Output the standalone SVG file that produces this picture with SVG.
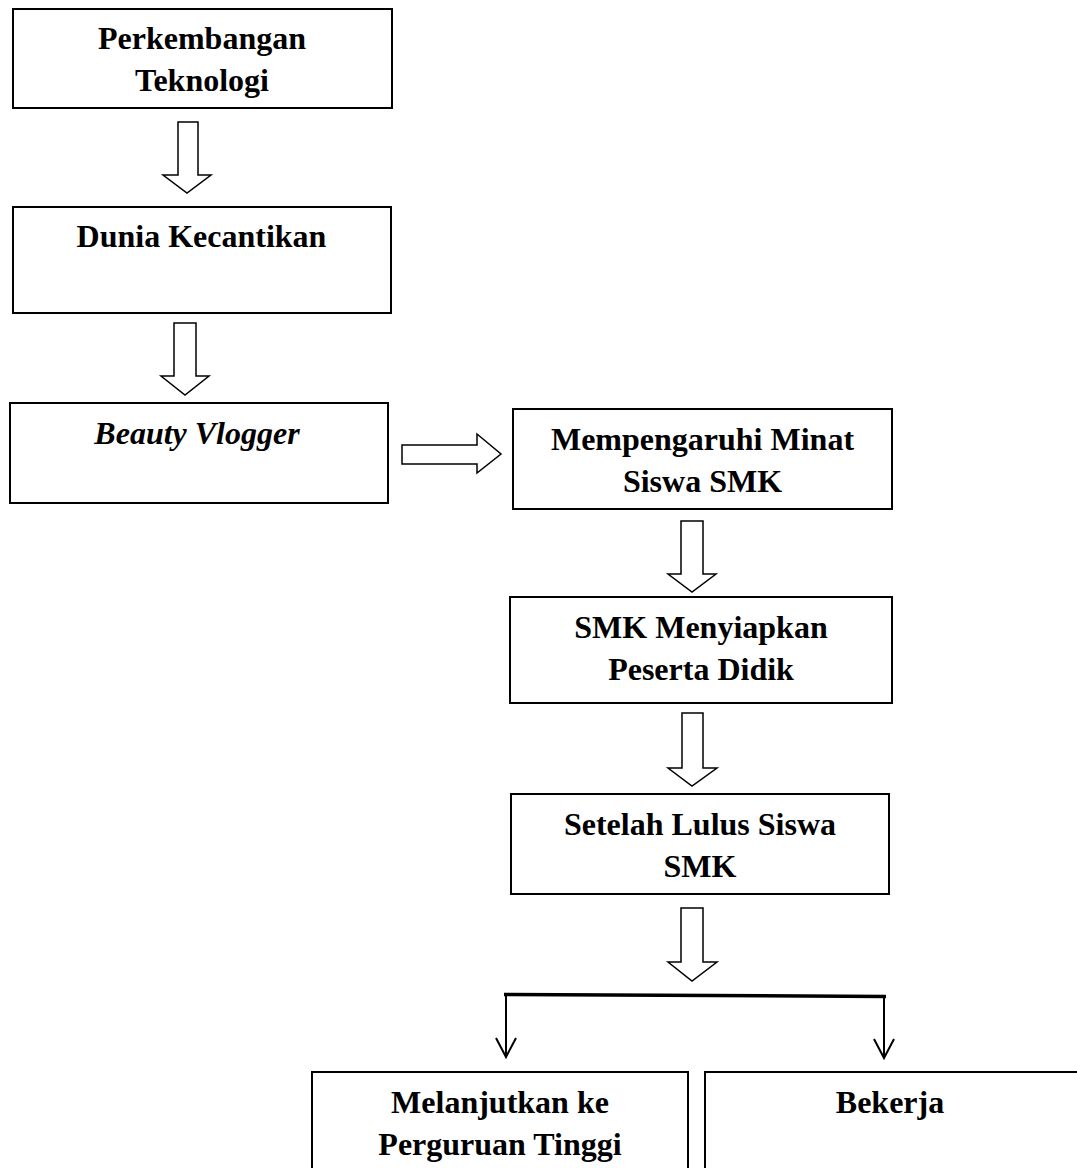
<svg xmlns="http://www.w3.org/2000/svg" width="1077" height="1168" viewBox="0 0 1077 1168">
<defs>
<style>
.box{fill:#fff;stroke:#000;stroke-width:2}
.blk{fill:#fff;stroke:#000;stroke-width:1.5;stroke-linejoin:miter}
.t{font-family:"Liberation Serif","Times New Roman",serif;font-weight:bold;font-size:32px;fill:#000;text-anchor:middle}
.it{font-style:italic}
.ln{fill:none;stroke:#000;stroke-width:2}
.split{fill:none;stroke:#000;stroke-width:3.5}
</style>
</defs>
<rect width="1077" height="1168" fill="#fff"/>
<g id="connectors">
<polygon class="blk" points="178,122 198,122 198,175 211,175 187,193 163,175 178,175"/>
<polygon class="blk" points="174,323 196,323 196,376 209,376 185,395 161,376 174,376"/>
<polygon class="blk" points="402,445 477,445 477,434 501,454 477,473 477,464 402,464"/>
<polygon class="blk" points="681,521 703,521 703,574 716,574 692,592 668,574 681,574"/>
<polygon class="blk" points="682,713 703,713 703,768 717,768 692,786 668,768 682,768"/>
<polygon class="blk" points="681,908 703,908 703,962 717,962 692,981 668,962 681,962"/>
<path class="split" d="M504,994.5 L886,996.5"/>
<path class="ln" d="M506,995 L506,1057 M496,1038 L506,1057 L516,1038"/>
<path class="ln" d="M884,996 L884,1058 M874,1039 L884,1058 L894,1039"/>
</g>
<g id="node-perkembangan">
<rect class="box" x="13" y="9" width="379" height="99"/>
<text class="t" x="202" y="49">Perkembangan</text>
<text class="t" x="202" y="91">Teknologi</text>
</g>
<g id="node-dunia">
<rect class="box" x="13" y="207" width="378" height="106"/>
<text class="t" x="201.5" y="247">Dunia Kecantikan</text>
</g>
<g id="node-beauty">
<rect class="box" x="10" y="403" width="378" height="100"/>
<text class="t it" x="197" y="444">Beauty Vlogger</text>
</g>
<g id="node-minat">
<rect class="box" x="513" y="409" width="379" height="100"/>
<text class="t" x="702.5" y="450">Mempengaruhi Minat</text>
<text class="t" x="702.5" y="492">Siswa SMK</text>
</g>
<g id="node-menyiapkan">
<rect class="box" x="510" y="597" width="382" height="106"/>
<text class="t" x="701" y="638">SMK Menyiapkan</text>
<text class="t" x="701" y="680">Peserta Didik</text>
</g>
<g id="node-lulus">
<rect class="box" x="511" y="794" width="378" height="100"/>
<text class="t" x="700" y="835">Setelah Lulus Siswa</text>
<text class="t" x="700" y="877">SMK</text>
</g>
<g id="node-melanjutkan">
<rect class="box" x="312" y="1072" width="376" height="110"/>
<text class="t" x="500" y="1113">Melanjutkan ke</text>
<text class="t" x="500" y="1155">Perguruan Tinggi</text>
</g>
<g id="node-bekerja">
<rect class="box" x="705" y="1072" width="380" height="110"/>
<text class="t" x="890" y="1113">Bekerja</text>
</g>
</svg>
